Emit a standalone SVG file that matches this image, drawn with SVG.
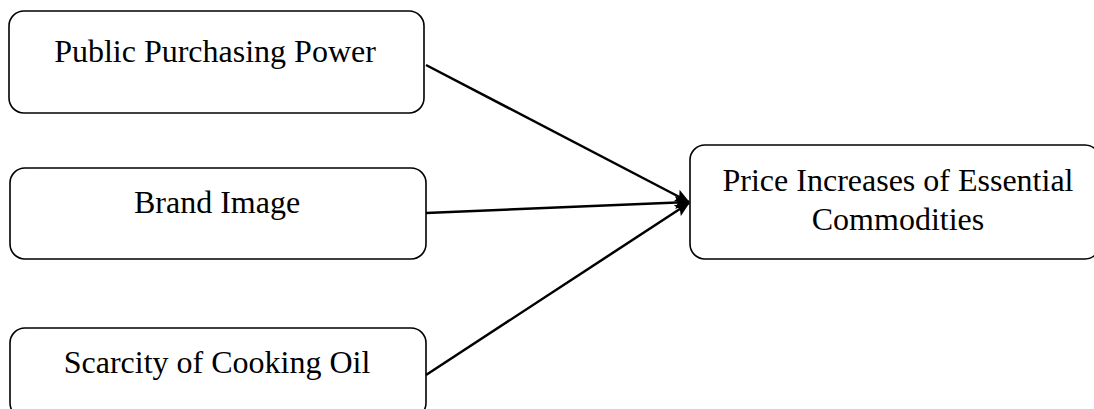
<svg xmlns="http://www.w3.org/2000/svg" width="1094" height="409" viewBox="0 0 1094 409">
<style>
.box{fill:#fff;stroke:#000;stroke-width:1.6}
.lbl{font-family:"Liberation Serif","Times New Roman",serif;font-size:32px;fill:#000;text-anchor:middle}
.con{stroke:#000;stroke-width:2.5;fill:none}
</style>
<defs>
<marker id="ah" markerWidth="15" markerHeight="13" refX="14" refY="6.5" orient="auto" markerUnits="userSpaceOnUse" viewBox="0 0 15 13">
<path d="M0,0 L15,6.5 L0,13 L3,6.5 Z" fill="#000"/>
</marker>
</defs>
<rect width="1094" height="409" fill="#fff"/>
<g id="n1"><rect class="box" x="9" y="11" width="415" height="102" rx="15"/><text class="lbl" x="215" y="62">Public Purchasing Power</text></g>
<g id="n2"><rect class="box" x="10" y="168" width="416" height="91" rx="15"/><text class="lbl" x="217" y="213">Brand Image</text></g>
<g id="n3"><rect class="box" x="10" y="328" width="416" height="90" rx="15"/><text class="lbl" x="217" y="373">Scarcity of Cooking Oil</text></g>
<g id="n4"><rect class="box" x="690" y="145" width="410" height="114" rx="15"/><text class="lbl" x="898" y="191">Price Increases of Essential</text><text class="lbl" x="898" y="230">Commodities</text></g>
<g id="connectors">
<line class="con" x1="426" y1="65" x2="689" y2="202" marker-end="url(#ah)"/>
<line class="con" x1="426" y1="213" x2="689" y2="202" marker-end="url(#ah)"/>
<line class="con" x1="426" y1="375" x2="689" y2="203" marker-end="url(#ah)"/>
</g>
</svg>
